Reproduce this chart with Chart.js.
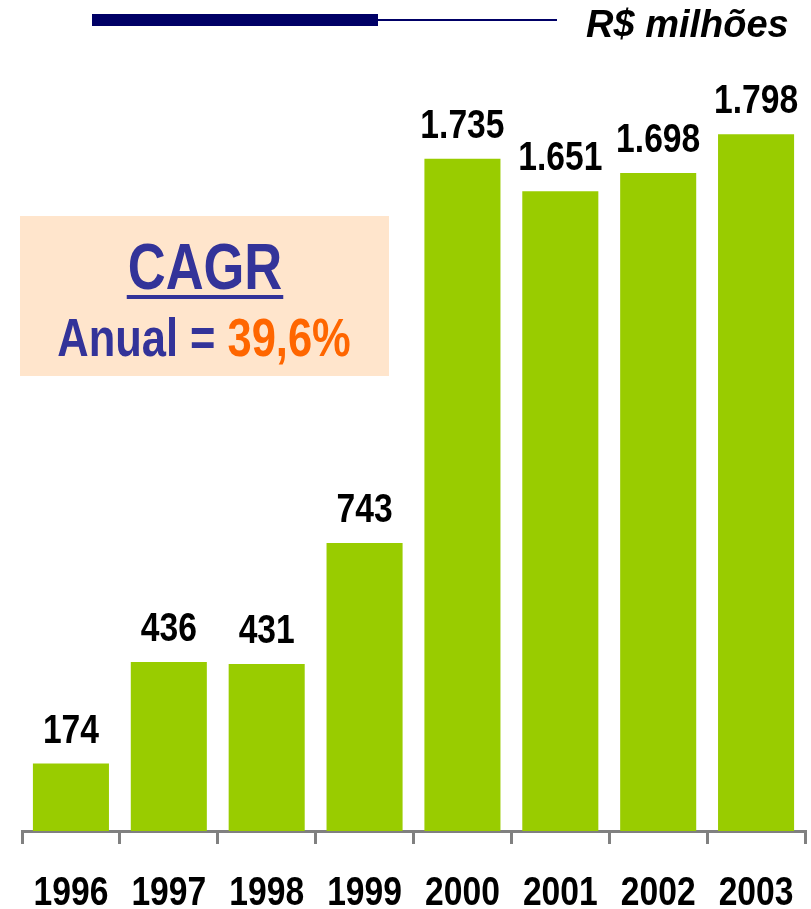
<!DOCTYPE html>
<html>
<head>
<meta charset="utf-8">
<script src="https://cdn.jsdelivr.net/npm/chart.js@4.4.0/dist/chart.umd.min.js"></script>
<style>
  html, body { margin: 0; padding: 0; background: #ffffff; }
  #wrap { width: 811px; height: 909px; }
</style>
</head>
<body>
<div id="wrap"><canvas id="c" width="811" height="909"></canvas></div>
<script>
const categories = ['1996', '1997', '1998', '1999', '2000', '2001', '2002', '2003'];
const revenue = [174, 436, 431, 743, 1735, 1651, 1698, 1798];
const valueLabels = ['174', '436', '431', '743', '1.735', '1.651', '1.698', '1.798'];
const unitText = 'R$ milhões';
const cagrTitle = 'CAGR';
const cagrPrefix = 'Anual = ';
const cagrValue = '39,6%';

const FONT = '"Liberation Sans", Arial, sans-serif';
const SQUEEZE = 0.82;

// draw horizontally condensed text (emulates Arial Narrow Bold)
function narrowText(ctx, text, x, y, size, color, align) {
  ctx.save();
  ctx.font = 'bold ' + size + 'px ' + FONT;
  ctx.fillStyle = color;
  ctx.textAlign = align || 'center';
  ctx.textBaseline = 'alphabetic';
  ctx.scale(SQUEEZE, 1);
  ctx.fillText(text, x / SQUEEZE, y);
  ctx.restore();
}
function narrowWidth(ctx, text, size) {
  ctx.save();
  ctx.font = 'bold ' + size + 'px ' + FONT;
  const w = ctx.measureText(text).width * SQUEEZE;
  ctx.restore();
  return w;
}

const decorPlugin = {
  id: 'decor',
  beforeDraw(chart) {
    const ctx = chart.ctx;
    ctx.save();
    // top rule
    ctx.fillStyle = '#000066';
    ctx.fillRect(92, 14, 286, 12);
    ctx.fillRect(378, 19, 179, 2);
    // unit text
    ctx.fillStyle = '#000000';
    ctx.font = 'italic bold 38px ' + FONT;
    ctx.textAlign = 'left';
    ctx.textBaseline = 'alphabetic';
    ctx.fillText(unitText, 586, 37);
    // CAGR box
    ctx.fillStyle = '#FFE5CC';
    ctx.fillRect(20, 216, 369, 160);
    ctx.restore();

    narrowText(ctx, cagrTitle, 205, 289, 64, '#333399', 'center');
    const tw = narrowWidth(ctx, cagrTitle, 64);
    ctx.save();
    ctx.fillStyle = '#333399';
    ctx.fillRect(205 - tw / 2 - 1, 295, tw + 2, 4);
    ctx.restore();

    const pw = narrowWidth(ctx, cagrPrefix, 53);
    const vw = narrowWidth(ctx, cagrValue, 53);
    const startX = 204 - (pw + vw) / 2;
    narrowText(ctx, cagrPrefix, startX, 356, 53, '#333399', 'left');
    narrowText(ctx, cagrValue, startX + pw, 356, 53, '#FF6600', 'left');
  },
  afterDatasetsDraw(chart) {
    const ctx = chart.ctx;
    const meta = chart.getDatasetMeta(0);
    meta.data.forEach((bar, i) => {
      narrowText(ctx, valueLabels[i], bar.x, bar.y - 21, 41, '#000000', 'center');
    });
  },
  afterDraw(chart) {
    const ctx = chart.ctx;
    const xs = chart.scales.x;
    categories.forEach((c, i) => {
      narrowText(ctx, c, xs.getPixelForTick(i), 905, 41, '#000000', 'center');
    });
  }
};

new Chart(document.getElementById('c'), {
  type: 'bar',
  data: {
    labels: categories,
    datasets: [{
      data: revenue,
      backgroundColor: '#99CC00',
      borderWidth: 0,
      barPercentage: 0.777,
      categoryPercentage: 1
    }]
  },
  options: {
    responsive: false,
    animation: false,
    devicePixelRatio: 1,
    layout: { padding: { top: 56, left: 22, right: 6, bottom: 0 } },
    plugins: { legend: { display: false }, tooltip: { enabled: false } },
    scales: {
      y: { display: false, min: 0, max: 2000 },
      x: {
        afterFit(s) { s.height = 78; },
        border: { display: true, color: '#808080', width: 3 },
        grid: {
          offset: true,
          drawOnChartArea: false,
          drawTicks: true,
          tickLength: 13,
          lineWidth: 3,
          color: '#808080'
        },
        ticks: { display: false }
      }
    }
  },
  plugins: [decorPlugin]
});
</script>
</body>
</html>
